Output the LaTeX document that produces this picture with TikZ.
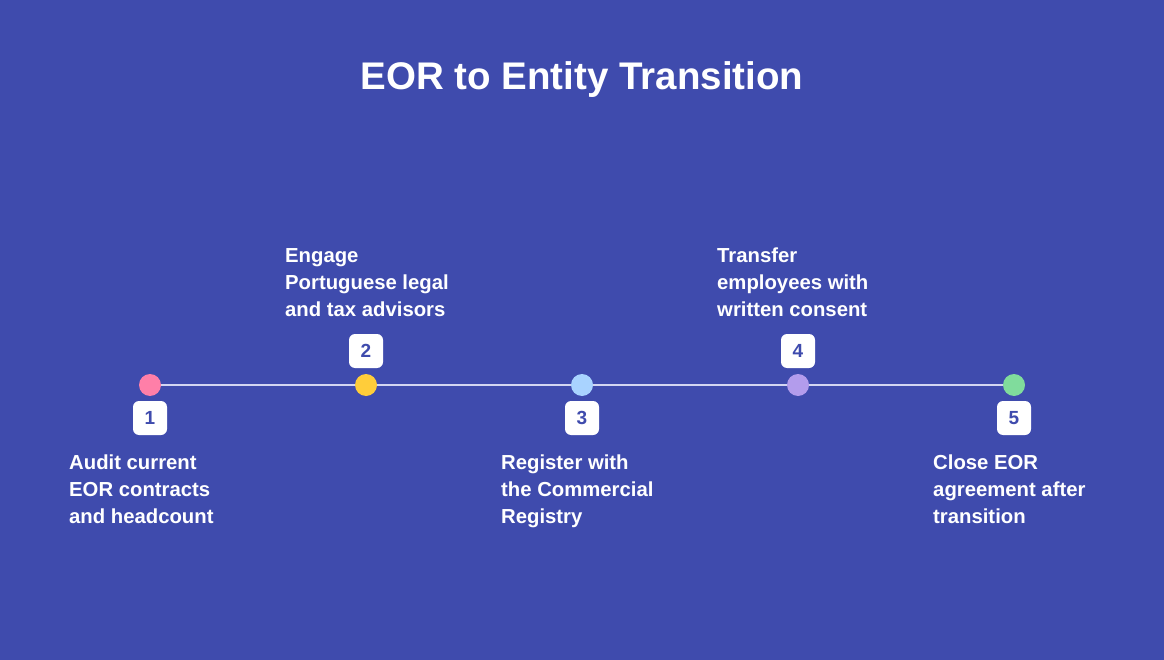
\documentclass[tikz,border=0pt]{standalone}
\usepackage{fontspec}
\setmainfont{Liberation Sans}
\definecolor{bgc}{HTML}{3F4BAD}
\definecolor{linec}{HTML}{D3D6F2}
\definecolor{c1}{HTML}{FF7FA8}
\definecolor{c2}{HTML}{FFCD3A}
\definecolor{c3}{HTML}{A9D3FF}
\definecolor{c4}{HTML}{B39CEC}
\definecolor{c5}{HTML}{80DC9C}
\begin{document}
\begin{tikzpicture}[x=1pt,y=-1pt,
  dot/.style={circle,minimum size=22pt,inner sep=0pt},
  numbox/.style={fill=white,rounded corners=6pt,minimum width=34pt,minimum height=34pt,inner sep=0pt,text=bgc,font=\bfseries\fontsize{19}{19}\selectfont},
  lbl/.style={anchor=north west,align=left,inner sep=0pt,text=white,font=\bfseries\fontsize{20.3}{27}\selectfont},
]
\fill[bgc] (0,0) rectangle (1164,660);
\useasboundingbox (0,0) rectangle (1164,660);
\node[text=white,font=\bfseries\fontsize{38.5}{38.5}\selectfont] (title) at (582,80) {EOR to Entity Transition};
\node[dot,fill=c1] (d1) at (150,385) {};
\node[dot,fill=c2] (d2) at (366,385) {};
\node[dot,fill=c3] (d3) at (582,385) {};
\node[dot,fill=c4] (d4) at (798,385) {};
\node[dot,fill=c5] (d5) at (1014,385) {};
\draw[linec,line width=2pt] (d1) -- (d2) -- (d3) -- (d4) -- (d5);
\node[numbox] (n1) at (150,418) {1};
\node[numbox] (n2) at (366,351) {2};
\node[numbox] (n3) at (582,418) {3};
\node[numbox] (n4) at (798,351) {4};
\node[numbox] (n5) at (1014,418) {5};
\node[lbl] (t1) at (69,455) {Audit current\\EOR contracts\\and headcount};
\node[lbl] (t2) at (285,248) {Engage\\Portuguese legal\\and tax advisors};
\node[lbl] (t3) at (501,455) {Register with\\the Commercial\\Registry};
\node[lbl] (t4) at (717,248) {Transfer\\employees with\\written consent};
\node[lbl] (t5) at (933,455) {Close EOR\\agreement after\\transition};
\end{tikzpicture}
\end{document}
